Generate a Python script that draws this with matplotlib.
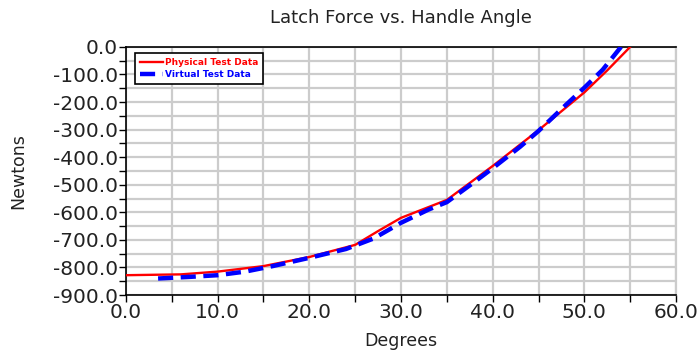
import matplotlib
matplotlib.use("Agg")
import matplotlib.pyplot as plt
from matplotlib.ticker import MultipleLocator, FormatStrFormatter

# Latch force measurements against handle angle
physical_deg = [0, 6, 10, 15, 20, 25, 27.5, 30, 35, 40, 45, 50, 52.5, 55]
physical_n = [-828, -825, -815, -795, -762, -718, -668, -620, -555, -432, -302, -165, -85, 0]

virtual_deg = [3.5, 7, 10, 13, 16, 20, 24, 27, 30, 33, 35, 38, 40, 43, 45, 48, 50, 52, 54]
virtual_n = [-840, -834, -828, -815, -795, -765, -733, -695, -638, -590, -563, -490, -440, -362, -305, -210, -148, -83, 0]

series_labels = ["Physical Test Data", "Virtual Test Data"]

plt.rcParams['font.family'] = ['DejaVu Sans']

fig = plt.figure(figsize=(6.98, 3.5), dpi=100)
ax = fig.add_axes([0.1805, 0.157, 0.7880, 0.709])

ax.plot(physical_deg, physical_n, color="#ff0000", lw=1.7, label=series_labels[0], zorder=3)
ax.plot(virtual_deg, virtual_n, color="#0000ff", lw=3.2, dashes=(3.4, 1.7),
        label=series_labels[1], zorder=4)

ax.set_xlim(0, 60)
ax.set_ylim(-900, 0)
ax.xaxis.set_major_locator(MultipleLocator(10))
ax.xaxis.set_minor_locator(MultipleLocator(5))
ax.yaxis.set_major_locator(MultipleLocator(100))
ax.yaxis.set_minor_locator(MultipleLocator(50))
ax.xaxis.set_major_formatter(FormatStrFormatter("%.1f"))
ax.yaxis.set_major_formatter(FormatStrFormatter("%.1f"))

ax.grid(True, which="both", color="#cccccc", lw=1.6, zorder=0)
ax.set_axisbelow(True)
ax.tick_params(which="both", direction="out", length=5, width=1, colors="black",
               labelsize=14.5, pad=1)
for lbl in ax.get_xticklabels() + ax.get_yticklabels():
    lbl.set_color("#222222")

for side in ("left", "bottom", "top"):
    ax.spines[side].set_color("black")
    ax.spines[side].set_linewidth(1.2)
ax.spines["right"].set_color("#cccccc")
ax.spines["right"].set_linewidth(1.6)

ax.set_title("Latch Force vs. Handle Angle", fontsize=13, pad=17, color="#222222")
ax.set_xlabel("Degrees", fontsize=12.5, labelpad=7, color="#222222")
ax.set_ylabel("Newtons", fontsize=12.5, labelpad=18, color="#222222")

leg = ax.legend(loc="upper left", bbox_to_anchor=(0.016, 0.975),
                prop={"weight": "bold", "size": 6.5}, labelcolor="linecolor",
                handlelength=2.6, handletextpad=0.2, borderpad=0.55,
                labelspacing=0.3, fancybox=False, framealpha=1,
                edgecolor="black", borderaxespad=0)
leg.get_frame().set_linewidth(1.2)

fig.savefig("out.png", dpi=100)
